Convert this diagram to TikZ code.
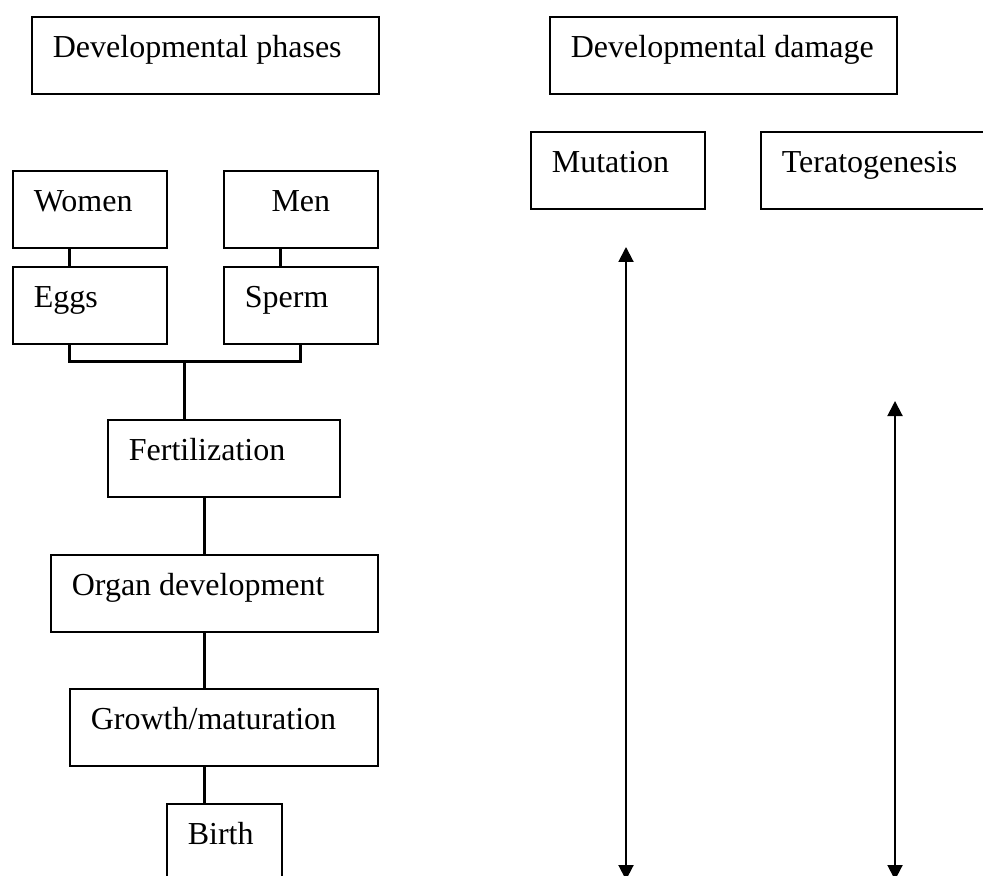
\documentclass[tikz,border=0pt]{standalone}
\usepackage{fontspec}
\setmainfont{Liberation Serif}
\usetikzlibrary{arrows.meta}
\begin{document}
\begin{tikzpicture}[x=0.5pt, y=-0.5pt,
        box/.style={draw, line width=0.85pt, anchor=north west, inner xsep=10.5pt, inner ysep=0pt,
            align=flush left, text height=20.5pt, text depth=18pt, font=\fontsize{16}{19}\selectfont},
        link/.style={line width=1.5pt},
        span/.style={line width=1pt, {Triangle[length=7.5pt,width=7.5pt]}-{Triangle[length=7.5pt,width=7.5pt]}}]
        \useasboundingbox (0,0) rectangle (983,876);
        \node [box, text width=152.5pt] (phases) at (31,16) {\mbox{Developmental phases}};
        \node [box, text width=152.5pt] (damage) at (549,16) {\mbox{Developmental damage}};
        \node [box, text width=56pt] (women) at (12,170) {Women};
        \node [box, text width=56pt, align=center] (men) at (223,170) {Men};
        \node [box, text width=56pt] (eggs) at (12,266) {Eggs};
        \node [box, text width=56pt] (sperm) at (223,266) {Sperm};
        \node [box, text width=95pt] (fert) at (107,419) {Fertilization};
        \node [box, text width=142.5pt] (organ) at (50,554) {\mbox{Organ development}};
        \node [box, text width=133pt] (growth) at (69,688) {Growth/maturation};
        \node [box, text width=36.5pt] (birth) at (166,803) {Birth};
        \node [box, text width=66pt] (mutation) at (530,131) {Mutation};
        \node [box, text width=99pt] (terato) at (760,131) {Teratogenesis};
        \draw [link] ([xshift=-10pt]women.south) -- ([xshift=-10pt]eggs.north);
        \draw [link] ([xshift=-10pt]men.south) -- ([xshift=-10pt]sperm.north);
        \coordinate (fork) at (184,362);
        \draw [link] ([xshift=-10pt]eggs.south) |- (fork) -| (sperm.south);
        \draw [link] (fork) -- (fork |- fert.north);
        \coordinate (spine) at ([xshift=-9.5pt]fert.south);
        \draw [link] (spine) -- (spine |- organ.north);
        \draw [link] (spine |- organ.south) -- (spine |- growth.north);
        \draw [link] (spine |- growth.south) -- (spine |- birth.north);
        \coordinate (mut top) at (626,247);
        \coordinate (mut end) at (626,880);
        \coordinate (ter top) at (895,401);
        \coordinate (ter end) at (895,880);
        \draw [span] (mut top) -- (mut end);
        \draw [span] (ter top) -- (ter end);
\end{tikzpicture}
\end{document}
